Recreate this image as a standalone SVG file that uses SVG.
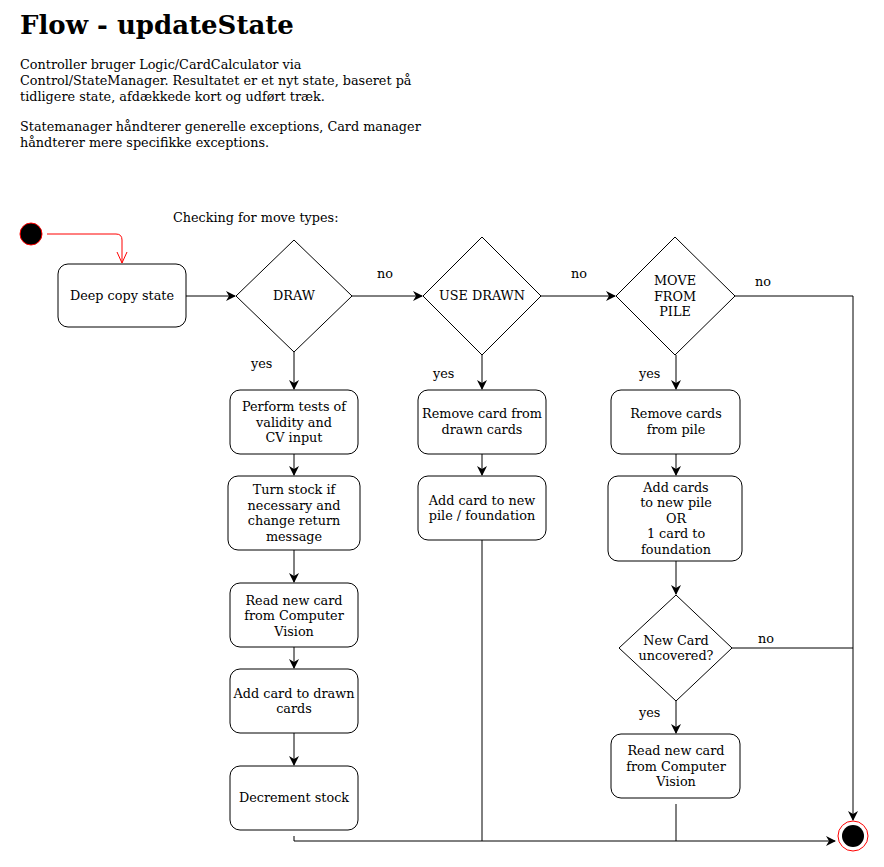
<svg xmlns="http://www.w3.org/2000/svg" width="884" height="867" viewBox="0 0 884 867">
<style>
text{font-family:"DejaVu Serif",serif;font-size:12.8px;fill:#000}
.c{text-anchor:middle}
.title{font-size:26px;font-weight:bold}
.box{fill:#fff;stroke:#000;stroke-width:1}
.dia{fill:#fff;stroke:#000;stroke-width:1}
.ln{fill:none;stroke:#000;stroke-width:1}
</style>
<defs>
<marker id="a" viewBox="0 0 10 10" refX="9" refY="5" markerWidth="10" markerHeight="10" markerUnits="userSpaceOnUse" orient="auto">
<path d="M0,0 L10,5 L0,10 L3,5 Z" fill="#000"/>
</marker>
<marker id="ra" viewBox="0 0 12 12" refX="11" refY="6" markerWidth="12" markerHeight="12" markerUnits="userSpaceOnUse" orient="auto">
<path d="M0,1 L11,6 L0,11" fill="none" stroke="#f00" stroke-width="1"/>
</marker>
</defs>
<rect width="884" height="867" fill="#fff"/>
<g id="header">
<text class="title" x="20" y="34">Flow - updateState</text>
<text x="20" y="69">Controller bruger Logic/CardCalculator via</text>
<text x="20" y="85">Control/StateManager. Resultatet er et nyt state, baseret på</text>
<text x="20" y="101">tidligere state, afdækkede kort og udført træk.</text>
<text x="20" y="131">Statemanager håndterer generelle exceptions, Card manager</text>
<text x="20" y="147">håndterer mere specifikke exceptions.</text>
<text x="173" y="222">Checking for move types:</text>
</g>
<g id="connectors">
<path class="ln" d="M47,234 H116 Q122,234 122,240 V263" style="stroke:#f00" marker-end="url(#ra)"/>
<path class="ln" d="M186,296 H235" marker-end="url(#a)"/>
<path class="ln" d="M352,296 H422" marker-end="url(#a)"/>
<path class="ln" d="M541,296 H615" marker-end="url(#a)"/>
<path class="ln" d="M735,296 H853 V820" marker-end="url(#a)"/>
<path class="ln" d="M732,648 H853"/>
<path class="ln" d="M294,352 V389" marker-end="url(#a)"/>
<path class="ln" d="M294,454 V475" marker-end="url(#a)"/>
<path class="ln" d="M294,550 V582" marker-end="url(#a)"/>
<path class="ln" d="M294,647 V668" marker-end="url(#a)"/>
<path class="ln" d="M294,733 V765" marker-end="url(#a)"/>
<path class="ln" d="M294,836 V841 H835" marker-end="url(#a)"/>
<path class="ln" d="M482,355 V389" marker-end="url(#a)"/>
<path class="ln" d="M482,454 V475" marker-end="url(#a)"/>
<path class="ln" d="M482,540 V841"/>
<path class="ln" d="M676,355 V389" marker-end="url(#a)"/>
<path class="ln" d="M676,454 V475" marker-end="url(#a)"/>
<path class="ln" d="M676,561 V594" marker-end="url(#a)"/>
<path class="ln" d="M676,701 V733" marker-end="url(#a)"/>
<path class="ln" d="M676,804 V841"/>
<text x="377" y="278">no</text>
<text x="571" y="278">no</text>
<text x="755" y="286">no</text>
<text x="758" y="643">no</text>
<text x="251" y="368">yes</text>
<text x="433" y="378">yes</text>
<text x="639" y="378">yes</text>
<text x="639" y="717">yes</text>
</g>
<g id="start">
<circle cx="31" cy="234" r="11" fill="#000" stroke="#f00" stroke-width="1"/>
</g>
<g id="end">
<circle cx="853" cy="836" r="15" fill="none" stroke="#f00" stroke-width="1"/>
<circle cx="853" cy="836" r="11" fill="#000"/>
</g>
<g id="deepcopy">
<rect class="box" x="58" y="264" width="128" height="63" rx="10"/>
<text class="c" x="122" y="300">Deep copy state</text>
</g>
<g id="draw">
<path class="dia" d="M294,240 L352,296 L294,352 L236,296 Z"/>
<text class="c" x="294" y="300">DRAW</text>
</g>
<g id="usedrawn">
<path class="dia" d="M482,237 L541,296 L482,355 L423,296 Z"/>
<text class="c" x="482" y="300">USE DRAWN</text>
</g>
<g id="movefrompile">
<path class="dia" d="M675,237 L735,296 L675,355 L616,296 Z"/>
<text class="c" x="675" y="285">MOVE</text>
<text class="c" x="675" y="301">FROM</text>
<text class="c" x="675" y="316">PILE</text>
</g>
<g id="performtests">
<rect class="box" x="230" y="390" width="128" height="64" rx="10"/>
<text class="c" x="294" y="411">Perform tests of</text>
<text class="c" x="294" y="427">validity and</text>
<text class="c" x="294" y="442">CV input</text>
</g>
<g id="turnstock">
<rect class="box" x="228" y="476" width="132" height="74" rx="10"/>
<text class="c" x="294" y="494">Turn stock if</text>
<text class="c" x="294" y="510">necessary and</text>
<text class="c" x="294" y="525">change return</text>
<text class="c" x="294" y="541">message</text>
</g>
<g id="readnew1">
<rect class="box" x="230" y="583" width="128" height="64" rx="10"/>
<text class="c" x="294" y="605">Read new card</text>
<text class="c" x="294" y="620">from Computer</text>
<text class="c" x="294" y="636">Vision</text>
</g>
<g id="addtodrawn">
<rect class="box" x="230" y="669" width="128" height="64" rx="10"/>
<text class="c" x="294" y="698">Add card to drawn</text>
<text class="c" x="294" y="713">cards</text>
</g>
<g id="decrement">
<rect class="box" x="230" y="766" width="128" height="64" rx="10"/>
<text class="c" x="294" y="802">Decrement stock</text>
</g>
<g id="removedrawn">
<rect class="box" x="418" y="390" width="128" height="64" rx="10"/>
<text class="c" x="482" y="418">Remove card from</text>
<text class="c" x="482" y="434">drawn cards</text>
</g>
<g id="addnewpile">
<rect class="box" x="418" y="476" width="128" height="64" rx="10"/>
<text class="c" x="482" y="505">Add card to new</text>
<text class="c" x="482" y="520">pile / foundation</text>
</g>
<g id="removepile">
<rect class="box" x="611" y="390" width="129" height="64" rx="10"/>
<text class="c" x="676" y="418">Remove cards</text>
<text class="c" x="676" y="434">from pile</text>
</g>
<g id="addcards">
<rect class="box" x="608" y="476" width="134" height="85" rx="10"/>
<text class="c" x="676" y="492">Add cards</text>
<text class="c" x="676" y="507">to new pile</text>
<text class="c" x="676" y="523">OR</text>
<text class="c" x="676" y="538">1 card to</text>
<text class="c" x="676" y="554">foundation</text>
</g>
<g id="newcard">
<path class="dia" d="M676,595 L732,648 L676,701 L619,648 Z"/>
<text class="c" x="676" y="645">New Card</text>
<text class="c" x="676" y="660">uncovered?</text>
</g>
<g id="readnew2">
<rect class="box" x="611" y="734" width="129" height="64" rx="10"/>
<text class="c" x="676" y="755">Read new card</text>
<text class="c" x="676" y="771">from Computer</text>
<text class="c" x="676" y="786">Vision</text>
</g>
</svg>
